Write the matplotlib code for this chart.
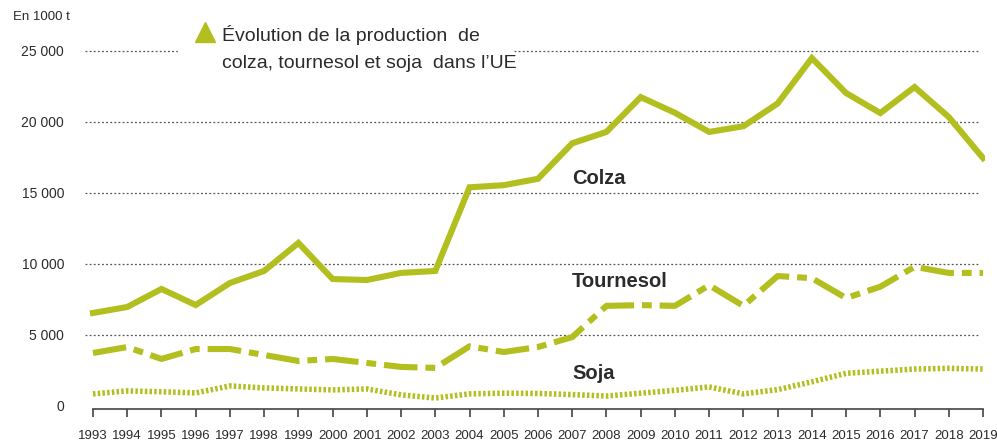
import numpy as np
import matplotlib.pyplot as plt
from matplotlib.lines import Line2D

years = np.arange(1993, 2020)
colza = [6550, 6970, 8240, 7110, 8660, 9510, 11480, 8940, 8870, 9370, 9510,
         15400, 15550, 16000, 18500, 19300, 21750, 20650, 19300, 19700, 21300,
         24500, 22040, 20630, 22460, 20350, 17460]
tournesol = [3730, 4150, 3310, 4010, 4010, 3590, 3170, 3310, 3030, 2750, 2680,
             4200, 3800, 4150, 4850, 7050, 7100, 7050, 8500, 7050, 9150,
             9000, 7600, 8400, 9800, 9370, 9370]
soja = [850, 1060, 1000, 920, 1410, 1270, 1200, 1130, 1200, 780, 560,
        850, 900, 880, 800, 700, 900, 1100, 1340, 850, 1150,
        1700, 2300, 2450, 2600, 2650, 2600]
yticks = [0, 5000, 10000, 15000, 20000, 25000]
ytick_labels = ["0", "5 000", "10 000", "15 000", "20 000", "25 000"]

green = "#b3bf1e"
text_col = "#2b2b2b"
plt.rcParams["font.family"] = ["Liberation Sans", "DejaVu Sans"]

fig = plt.figure(figsize=(9.97, 4.41), dpi=100)
W, H = 997, 441
ax = fig.add_axes([85 / W, 1 - 408.8 / H, 900 / W, (408.8 - 22.6) / H])
ax.set_xlim(1993 - 8 / 34.23, 2019 + 2 / 34.23)
ax.set_ylim(-200, 27000)

# dotted grid lines
for v in yticks[1:]:
    ax.plot([1992.77, 2018.85], [v, v], color="#555555", lw=0.9,
            linestyle=(0, (1.5, 1.8)), zorder=1)

ax.plot(years, colza, color=green, lw=4.4, solid_joinstyle="miter", zorder=3)
ax.plot(years, tournesol, color=green, lw=4.4, dashes=(5.5, 1.3, 1.6, 1.3),
        dash_capstyle="butt", zorder=3)
ax.plot(years, soja, color=green, lw=4.0, dashes=(0.45, 0.4),
        dash_capstyle="butt", zorder=3)

for s in ["top", "right", "left"]:
    ax.spines[s].set_visible(False)
ax.spines["bottom"].set_bounds(1993, 2019)
ax.spines["bottom"].set_color("#444444")
ax.spines["bottom"].set_linewidth(1.2)
ax.set_xticks(years)
ax.set_xticklabels([str(y) for y in years], family=["Liberation Sans Narrow", "Liberation Sans"],
                   fontsize=9.5, color=text_col)
ax.tick_params(axis="x", length=6, width=1.2, color="#444444", pad=9)
ax.set_yticks(yticks)
ax.set_yticklabels(ytick_labels, fontsize=10, color=text_col)
ax.tick_params(axis="y", length=0, pad=15)

fig.text(70 / W, 1 - 17 / H, "En 1000 t", ha="right", va="center", fontsize=9.5,
         color=text_col)

# title box with triangle marker
fig.patches.append(plt.Rectangle((178 / W, 1 - 80 / H), 335 / W, 62 / H,
                                 transform=fig.transFigure, color="white", zorder=2))
fig.add_artist(Line2D([205 / W], [1 - 32 / H], marker="^", markersize=15,
                      color=green, linestyle="none", transform=fig.transFigure,
                      zorder=5))
fig.text(222 / W, 1 - 35 / H, "Évolution de la production  de", fontsize=14,
         color=text_col, va="center", ha="left", zorder=5)
fig.text(222 / W, 1 - 64 / H, "colza, tournesol et soja  dans l\u2019UE", fontsize=14,
         color=text_col, va="center", ha="left", zorder=5)

# series labels
ax.text(2007.0, 16050, "Colza", fontsize=14.5, fontweight="bold", color=text_col, va="center")
ax.text(2007.0, 8800, "Tournesol", fontsize=14.5, fontweight="bold", color=text_col, va="center")
ax.text(2007.0, 2300, "Soja", fontsize=14.5, fontweight="bold", color=text_col, va="center")

fig.savefig("out.png", dpi=100)
